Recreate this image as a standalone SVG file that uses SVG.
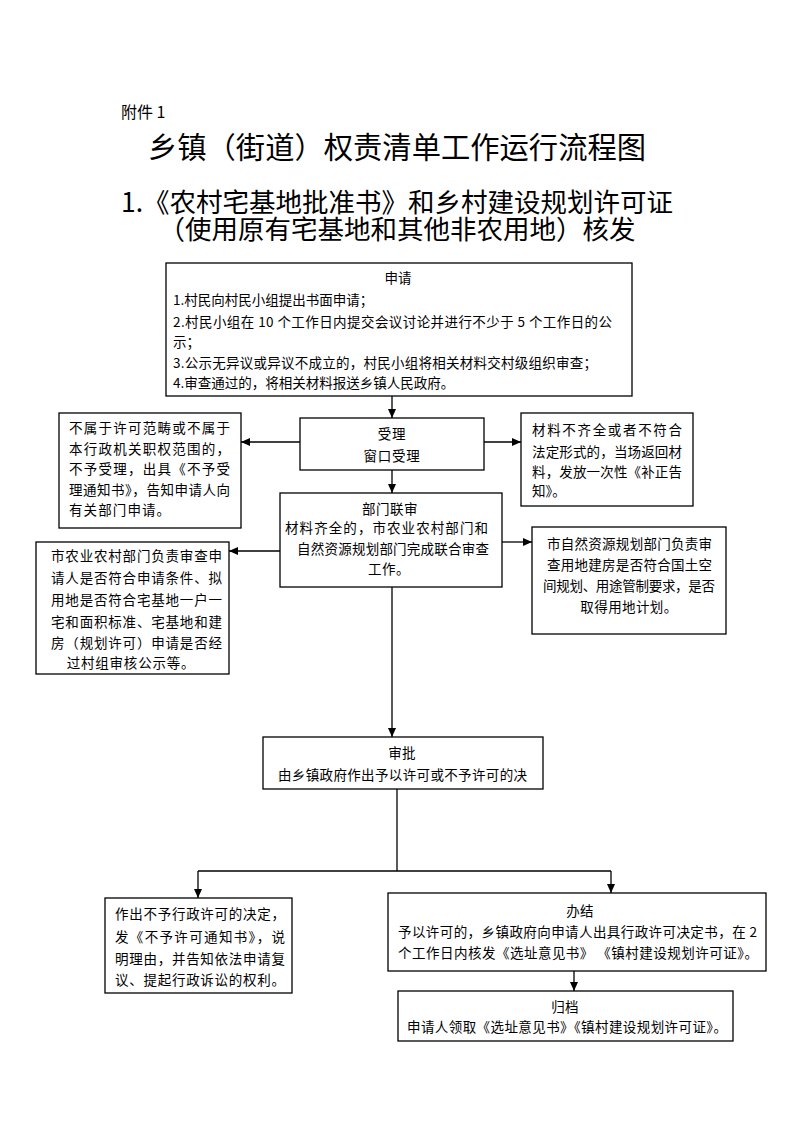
<svg xmlns="http://www.w3.org/2000/svg" width="793" height="1122" viewBox="0 0 793 1122">
<style>
  .bg { fill: #ffffff; }
  .box { fill: #ffffff; stroke: #000000; stroke-width: 1.3; }
  .t { font-family: "Noto Sans CJK SC", "Liberation Sans", sans-serif; font-size: 13.5px; fill: #000000; }
  .c { text-anchor: middle; }
  .title { font-family: "Noto Sans CJK SC", "Liberation Sans", sans-serif; fill: #000000; text-anchor: middle; }
  .ln { fill: none; stroke: #000000; stroke-width: 1.3; }
</style>
<defs>
  <marker id="arr" markerUnits="userSpaceOnUse" markerWidth="9" markerHeight="8" refX="9" refY="4" orient="auto">
    <path d="M0,0 L9,4 L0,8 Z" fill="#000000"/>
  </marker>
</defs>
<rect class="bg" x="0" y="0" width="793" height="1122"/>

<g id="header">
  <text x="121" y="118" style="font-family:'Noto Sans CJK SC','Liberation Sans',sans-serif;font-size:16px;fill:#000">附件 1</text>
  <text class="title" x="397" y="158" font-size="29.3">乡镇（街道）权责清单工作运行流程图</text>
  <text class="title" font-size="26.5"><tspan x="397" y="212">1.《农村宅基地批准书》和乡村建设规划许可证</tspan><tspan x="397" y="239">（使用原有宅基地和其他非农用地）核发</tspan></text>
</g>

<g id="connectors">
  <line class="ln" x1="392" y1="396" x2="392" y2="418" marker-end="url(#arr)"/>
  <line class="ln" x1="300" y1="442" x2="241" y2="442" marker-end="url(#arr)"/>
  <line class="ln" x1="484" y1="442" x2="521" y2="442" marker-end="url(#arr)"/>
  <line class="ln" x1="392" y1="470" x2="392" y2="493" marker-end="url(#arr)"/>
  <line class="ln" x1="280" y1="551" x2="229" y2="551" marker-end="url(#arr)"/>
  <line class="ln" x1="502" y1="542" x2="532" y2="542" marker-end="url(#arr)"/>
  <line class="ln" x1="392" y1="587" x2="392" y2="737" marker-end="url(#arr)"/>
  <line class="ln" x1="397" y1="789" x2="397" y2="871"/>
  <line class="ln" x1="198" y1="871" x2="611" y2="871"/>
  <line class="ln" x1="198" y1="871" x2="198" y2="898" marker-end="url(#arr)"/>
  <line class="ln" x1="611" y1="871" x2="611" y2="893" marker-end="url(#arr)"/>
  <line class="ln" x1="574" y1="971" x2="574" y2="991" marker-end="url(#arr)"/>
</g>

<g id="node-apply">
  <rect class="box" x="166" y="263" width="466" height="133"/>
  <text class="t c" x="398" y="283">申请</text>
  <text class="t" x="173" y="305">1.村民向村民小组提出书面申请；</text>
  <text class="t" x="173" y="327" textLength="439" lengthAdjust="spacing">2.村民小组在 10 个工作日内提交会议讨论并进行不少于 5 个工作日的公</text>
  <text class="t" x="173" y="347">示；</text>
  <text class="t" x="173" y="368" textLength="424" lengthAdjust="spacing">3.公示无异议或异议不成立的，村民小组将相关材料交村级组织审查；</text>
  <text class="t" x="173" y="388">4.审查通过的，将相关材料报送乡镇人民政府。</text>
</g>

<g id="node-accept">
  <rect class="box" x="300" y="418" width="184" height="52"/>
  <text class="t c" x="392" y="439" letter-spacing="0.7">受理</text>
  <text class="t c" x="392" y="461" letter-spacing="0.7">窗口受理</text>
</g>

<g id="node-reject-scope">
  <rect class="box" x="59" y="413" width="182" height="115"/>
  <text class="t" x="69" y="433" textLength="161" lengthAdjust="spacing">不属于许可范畴或不属于</text>
  <text class="t" x="69" y="453.5" textLength="161" lengthAdjust="spacing">本行政机关职权范围的，</text>
  <text class="t" x="69" y="474" textLength="161" lengthAdjust="spacing">不予受理，出具《不予受</text>
  <text class="t" x="69" y="494.5" textLength="161" lengthAdjust="spacing">理通知书》，告知申请人向</text>
  <text class="t" x="69" y="515" letter-spacing="1.1">有关部门申请。</text>
</g>

<g id="node-incomplete">
  <rect class="box" x="521" y="413" width="172" height="93"/>
  <text class="t" x="532" y="435" textLength="150" lengthAdjust="spacing">材料不齐全或者不符合</text>
  <text class="t" x="532" y="456.5" textLength="150" lengthAdjust="spacing">法定形式的，当场返回材</text>
  <text class="t" x="532" y="476.5" textLength="150" lengthAdjust="spacing">料，发放一次性《补正告</text>
  <text class="t" x="532" y="495.5">知》。</text>
</g>

<g id="node-joint-review">
  <rect class="box" x="280" y="493" width="222" height="94"/>
  <text class="t c" x="390" y="514" letter-spacing="0.5">部门联审</text>
  <text class="t" x="285" y="533" textLength="203" lengthAdjust="spacing">材料齐全的，市农业农村部门和</text>
  <text class="t" x="297" y="554" textLength="192" lengthAdjust="spacing">自然资源规划部门完成联合审查</text>
  <text class="t c" x="389" y="574" letter-spacing="0.5">工作。</text>
</g>

<g id="node-agri-review">
  <rect class="box" x="36" y="542" width="193" height="132"/>
  <text class="t" x="51" y="561" textLength="171" lengthAdjust="spacing">市农业农村部门负责审查申</text>
  <text class="t" x="51" y="583" textLength="171" lengthAdjust="spacing">请人是否符合申请条件、拟</text>
  <text class="t" x="51" y="605" textLength="171" lengthAdjust="spacing">用地是否符合宅基地一户一</text>
  <text class="t" x="51" y="627" textLength="171" lengthAdjust="spacing">宅和面积标准、宅基地和建</text>
  <text class="t" x="51" y="648" textLength="171" lengthAdjust="spacing">房（规划许可）申请是否经</text>
  <text class="t c" x="131" y="668" letter-spacing="0.8">过村组审核公示等。</text>
</g>

<g id="node-planning-review">
  <rect class="box" x="532" y="527" width="194" height="107"/>
  <text class="t" x="547" y="549" textLength="165" lengthAdjust="spacing">市自然资源规划部门负责审</text>
  <text class="t" x="547" y="570" textLength="165" lengthAdjust="spacing">查用地建房是否符合国土空</text>
  <text class="t" x="543" y="591" textLength="172" lengthAdjust="spacing">间规划、用途管制要求，是否</text>
  <text class="t c" x="629" y="612" letter-spacing="0.4">取得用地计划。</text>
</g>

<g id="node-approve">
  <rect class="box" x="263" y="737" width="280" height="52"/>
  <text class="t c" x="402" y="758" letter-spacing="0.3">审批</text>
  <text class="t" x="278" y="780" textLength="249" lengthAdjust="spacing">由乡镇政府作出予以许可或不予许可的决</text>
</g>

<g id="node-deny">
  <rect class="box" x="105" y="898" width="187" height="95"/>
  <text class="t" x="115" y="919" textLength="170" lengthAdjust="spacing">作出不予行政许可的决定，</text>
  <text class="t" x="115" y="942" textLength="170" lengthAdjust="spacing">发《不予许可通知书》，说</text>
  <text class="t" x="115" y="964" textLength="170" lengthAdjust="spacing">明理由，并告知依法申请复</text>
  <text class="t" x="115" y="985" textLength="170" lengthAdjust="spacing">议、提起行政诉讼的权利。</text>
</g>

<g id="node-complete">
  <rect class="box" x="388" y="893" width="378" height="78"/>
  <text class="t c" x="580" y="916" letter-spacing="0.3">办结</text>
  <text class="t" x="398" y="937" textLength="359" lengthAdjust="spacing">予以许可的，乡镇政府向申请人出具行政许可决定书，在 2</text>
  <text class="t" x="398" y="958" textLength="360" lengthAdjust="spacing">个工作日内核发《选址意见书》 《镇村建设规划许可证》。</text>
</g>

<g id="node-archive">
  <rect class="box" x="398" y="991" width="335" height="50"/>
  <text class="t c" x="565" y="1012" letter-spacing="0.3">归档</text>
  <text class="t" x="407" y="1032" textLength="320" lengthAdjust="spacing">申请人领取《选址意见书》《镇村建设规划许可证》。</text>
</g>
</svg>
